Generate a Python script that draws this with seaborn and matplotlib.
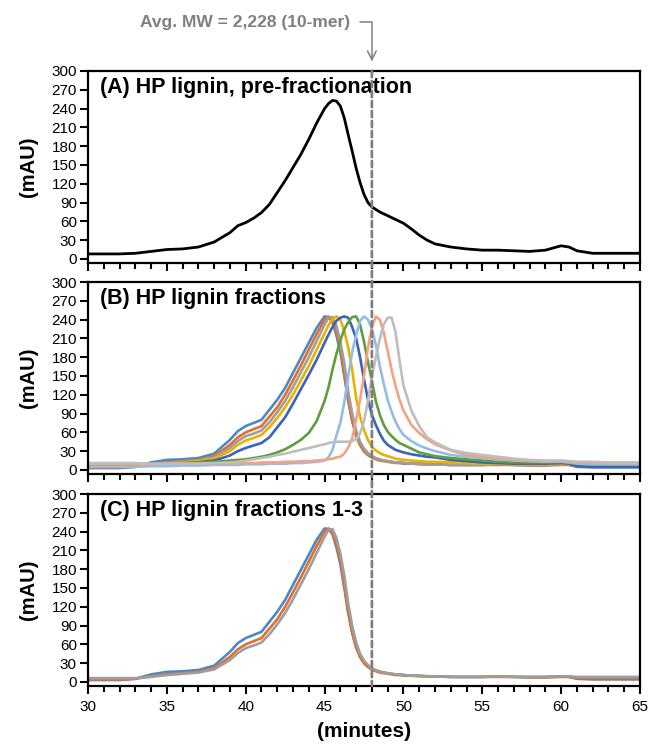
import numpy as np
import pandas as pd
import matplotlib
matplotlib.use("Agg")
import matplotlib.pyplot as plt
from matplotlib.patches import ConnectionPatch
from matplotlib.ticker import MultipleLocator
import seaborn as sns

# retention time grid (minutes) shared by every trace
MINUTES = [30, 32, 33, 34, 35, 36, 37, 38,
           39, 39.5, 40, 40.5, 41, 41.5, 42, 42.5, 43, 43.5, 44, 44.5,
           45, 45.25, 45.5, 45.75, 46, 46.25, 46.5, 46.75, 47, 47.25, 47.5, 47.75,
           48, 48.25, 48.5, 48.75, 49, 49.25, 49.5, 49.75, 50,
           50.5, 51, 51.5, 52, 53, 54, 55, 56, 57, 58, 59,
           60, 60.5, 61, 62, 63, 65]

# (A) pre-fractionation
PRE_FRACTIONATION = [8, 8, 9, 12, 15, 16, 19, 27,
                     42, 53, 58, 65, 74, 87, 106, 125, 146, 167, 191, 217,
                     240, 248, 253, 252, 244, 225, 198, 172, 145, 122, 103, 90,
                     83, 79, 75, 72, 69, 66, 63, 60, 57,
                     48, 38, 30, 24, 19, 16, 14, 14, 13, 12, 14,
                     21, 19, 13, 9, 9, 9]

# (B) fractions
FRAC_1 = [3, 3, 5, 12, 16, 17, 19, 26,
          48, 62, 70, 75, 80, 96, 112, 131, 155, 179, 203, 227,
          245, 244, 236, 215, 188, 150, 110, 78, 55, 40, 30, 24,
          20, 18, 16, 15, 14, 13, 12, 12, 11,
          10, 10, 9, 9, 8, 8, 8, 9, 8, 8, 8,
          9, 8, 5, 4, 4, 4]
FRAC_2 = [4, 4, 5, 9, 12, 14, 16, 22,
          40, 52, 60, 65, 70, 85, 100, 120, 143, 167, 192, 217,
          240, 245, 238, 220, 195, 155, 112, 80, 56, 40, 30, 24,
          20, 17, 15, 14, 13, 12, 11, 11, 10,
          10, 9, 9, 9, 8, 8, 8, 8, 8, 7, 7,
          8, 8, 6, 6, 6, 6]
FRAC_3 = [6, 6, 6, 8, 11, 13, 15, 20,
          35, 46, 54, 58, 63, 76, 92, 110, 132, 156, 180, 206,
          232, 243, 244, 230, 205, 170, 125, 90, 63, 45, 34, 27,
          22, 19, 17, 15, 14, 13, 12, 12, 11,
          10, 10, 9, 9, 8, 8, 8, 9, 8, 8, 8,
          9, 9, 8, 8, 8, 8]
FRAC_4 = [5, 5, 6, 8, 10, 12, 14, 18,
          30, 40, 47, 51, 56, 68, 83, 100, 120, 143, 166, 192,
          218, 231, 241, 245, 240, 222, 195, 160, 115, 85, 64, 48,
          37, 31, 27, 24, 22, 20, 18, 17, 16,
          15, 14, 13, 13, 12, 11, 10, 10, 9, 9, 9,
          10, 9, 7, 6, 6, 6]
FRAC_5 = [5, 5, 6, 8, 9, 10, 12, 15,
          23, 30, 35, 39, 43, 52, 68, 84, 106, 129, 152, 176,
          203, 216, 228, 238, 243, 245, 243, 228, 210, 180, 145, 112,
          88, 72, 58, 47, 40, 36, 32, 30, 28,
          25, 23, 21, 20, 16, 14, 12, 11, 10, 10, 10,
          11, 10, 6, 5, 5, 5]
FRAC_6 = [8, 8, 8, 9, 10, 11, 12, 13,
          15, 16, 17, 19, 21, 24, 28, 33, 40, 48, 59, 78,
          110, 132, 160, 185, 207, 224, 236, 244, 245, 232, 205, 172,
          142, 110, 88, 72, 61, 54, 48, 43, 40,
          34, 28, 25, 22, 19, 17, 15, 13, 12, 12, 12,
          13, 12, 10, 9, 9, 9]
FRAC_7 = [5, 5, 5, 6, 6, 7, 7, 8,
          8, 8, 9, 9, 9, 10, 10, 10, 11, 11, 12, 13,
          15, 20, 32, 55, 75, 108, 150, 188, 215, 238, 245, 240,
          225, 200, 166, 138, 112, 93, 77, 65, 56,
          46, 39, 34, 30, 24, 21, 19, 17, 15, 14, 13,
          13, 12, 10, 9, 9, 9]
FRAC_8 = [9, 9, 9, 9, 10, 10, 10, 10,
          10, 11, 11, 11, 12, 12, 12, 13, 13, 14, 14, 15,
          16, 17, 18, 20, 21, 26, 36, 50, 80, 112, 150, 195,
          228, 245, 240, 220, 190, 160, 134, 112, 95,
          72, 59, 49, 41, 31, 24, 21, 18, 16, 15, 14,
          14, 13, 12, 12, 11, 11]
FRAC_9 = [11, 11, 11, 10, 10, 10, 10, 11,
          12, 13, 15, 17, 19, 21, 24, 26, 29, 32, 35, 38,
          41, 43, 44, 45, 45, 45, 45, 46, 49, 58, 78, 110,
          148, 180, 209, 232, 243, 243, 220, 175, 135,
          95, 70, 52, 44, 32, 27, 24, 21, 18, 16, 15,
          15, 14, 13, 13, 12, 12]

FRACTIONS = ["1", "2", "3", "4", "5", "6", "7", "8", "9"]
FRACTION_COLORS = ["#4a89c8", "#e2702a", "#9e9e9e", "#ebb000", "#3a64b8",
                   "#5f9e3e", "#93bde8", "#f3a283", "#bebebe"]

AVG_MW_MINUTES = 48
PANEL_TITLES = ["(A) HP lignin, pre-fractionation",
                "(B) HP lignin fractions",
                "(C) HP lignin fractions 1-3"]

sns.set_style("ticks")
plt.rcParams['font.family'] = ['Liberation Sans', 'DejaVu Sans']
plt.rcParams['text.color'] = 'black'
plt.rcParams['axes.labelcolor'] = 'black'
plt.rcParams['xtick.color'] = 'black'
plt.rcParams['ytick.color'] = 'black'


def long_df(names, series):
    frames = [pd.DataFrame({'minutes': MINUTES, 'mAU': s, 'fraction': n})
              for n, s in zip(names, series)]
    return pd.concat(frames, ignore_index=True)


def style_axis(ax, title, show_xlabels):
    ax.set_xlim(30, 65)
    ax.set_ylim(-6.5, 300)
    ax.set_yticks(np.arange(0, 301, 30))
    ax.xaxis.set_major_locator(MultipleLocator(5))
    ax.xaxis.set_minor_locator(MultipleLocator(1))
    for sp in ax.spines.values():
        sp.set_visible(True)
        sp.set_linewidth(1.6)
        sp.set_color('black')
    ax.tick_params(axis='both', which='major', direction='out', length=6,
                   width=1.5, labelsize=11, colors='black', pad=2)
    ax.tick_params(axis='x', which='major', pad=4)
    ax.tick_params(axis='x', which='minor', direction='out', length=4.3,
                   width=1.5, color='black')
    ax.tick_params(top=False, right=False, which='both')
    ax.set_ylabel('(mAU)', fontsize=14.5, fontweight='bold')
    ax.yaxis.set_label_coords(-0.09, 0.5)
    if show_xlabels:
        ax.set_xlabel('(minutes)', fontsize=15, fontweight='bold')
        ax.xaxis.set_label_coords(0.5, -0.19)
    else:
        ax.set_xlabel('')
        ax.tick_params(axis='x', labelbottom=False)
    ax.text(0.022, 0.915, title, transform=ax.transAxes, fontsize=15.5,
            fontweight='bold', ha='left', va='center')


fig = plt.figure(figsize=(6.49, 7.45), dpi=100)
left, width, height = 88 / 649, 552 / 649, 192 / 745
axA = fig.add_axes([left, 1 - 263 / 745, width, height])
axB = fig.add_axes([left, 1 - 474 / 745, width, height])
axC = fig.add_axes([left, 1 - 686 / 745, width, height])

dfA = long_df(["pre"], [PRE_FRACTIONATION])
sns.lineplot(data=dfA, x='minutes', y='mAU', color='black', lw=2.0, ax=axA)

dfB = long_df(FRACTIONS, [FRAC_1, FRAC_2, FRAC_3, FRAC_4, FRAC_5,
                          FRAC_6, FRAC_7, FRAC_8, FRAC_9])
sns.lineplot(data=dfB, x='minutes', y='mAU', hue='fraction', hue_order=FRACTIONS,
             palette=FRACTION_COLORS, lw=1.9, legend=False, ax=axB)

dfC = long_df(FRACTIONS[:3], [FRAC_1, FRAC_2, FRAC_3])
sns.lineplot(data=dfC, x='minutes', y='mAU', hue='fraction', hue_order=FRACTIONS[:3],
             palette=FRACTION_COLORS[:3], lw=1.9, legend=False, ax=axC)

style_axis(axA, PANEL_TITLES[0], False)
style_axis(axB, PANEL_TITLES[1], False)
style_axis(axC, PANEL_TITLES[2], True)

# dashed marker for the average MW, running through all three panels
con = ConnectionPatch(xyA=(AVG_MW_MINUTES, 300), coordsA=axA.transData,
                      xyB=(AVG_MW_MINUTES, -6.5), coordsB=axC.transData,
                      color='#7f7f7f', lw=2, linestyle=(0, (2.2, 1.4)), zorder=5)
fig.add_artist(con)

axA.annotate('Avg. MW = 2,228 (10-mer)', xy=(AVG_MW_MINUTES, 300), xycoords='data',
             xytext=(245, 723), textcoords='figure pixels', ha='center', va='center',
             fontsize=12.5, fontweight='bold', color='#808080', annotation_clip=False,
             arrowprops=dict(arrowstyle='->,head_length=0.5,head_width=0.25',
                             color='#808080', lw=1.1, shrinkA=5, shrinkB=7,
                             connectionstyle='angle,angleA=0,angleB=90,rad=0'))

fig.savefig('out.png', dpi=100)
